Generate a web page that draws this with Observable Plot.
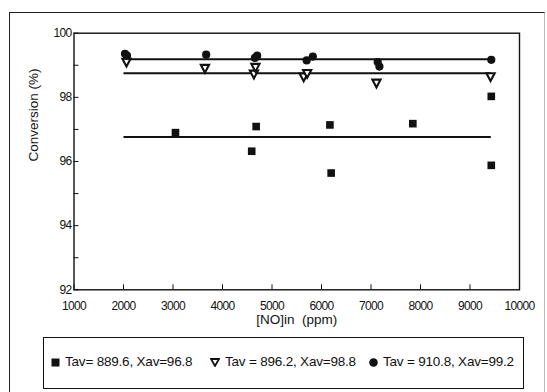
<!DOCTYPE html>
<html><head><meta charset="utf-8">
<script src="https://cdn.jsdelivr.net/npm/d3@7"></script>
<script src="https://cdn.jsdelivr.net/npm/@observablehq/plot@0.6"></script>
<style>
body{margin:0;background:#fff;}
#wrap{position:relative;width:547px;height:392px;overflow:hidden;font-family:"Liberation Sans",Arial,sans-serif;color:#111;}
#outer{position:absolute;left:9px;top:12px;width:536px;height:420px;border:1.3px solid #222;border-right-color:#bbb;box-sizing:border-box;}
#legend{position:absolute;left:43px;top:337px;width:481px;height:52px;border:1.6px solid #111;box-sizing:border-box;background:#fff;}
.sym{position:absolute;top:19.5px;line-height:0;}
.sym svg{display:block;}
.lab{position:absolute;top:16px;font-size:13.5px;line-height:16px;white-space:pre;letter-spacing:-0.2px;}
#chart{position:absolute;left:0;top:0;}
#chart g[aria-label="x-axis tick label"] text,
#chart g[aria-label="y-axis tick label"] text{letter-spacing:-0.7px;}
</style>
</head><body>
<div id="wrap">
  <div id="outer"></div>
  <div id="chart"></div>
  <div id="legend"></div>
</div>
<script>
// Series labels
const seriesNames = ["Tav= 889.6, Xav=96.8", "Tav = 896.2, Xav=98.8", "Tav = 910.8, Xav=99.2"];
// Tav = 889.6 (squares)
const sqX = [3050, 4590, 4680, 6170, 6195, 7845, 9430, 9430];
const sqY = [96.90, 96.32, 97.09, 97.14, 95.64, 97.18, 98.03, 95.88];
// Tav = 896.2 (open down-triangles)
const triX = [2060, 3645, 4635, 4665, 5640, 5710, 7110, 9415];
const triY = [99.10, 98.91, 98.73, 98.94, 98.64, 98.75, 98.45, 98.65];
// Tav = 910.8 (filled circles)
const cirX = [2030, 2070, 3670, 4655, 4700, 5700, 5825, 7135, 7170, 9430];
const cirY = [99.36, 99.30, 99.33, 99.23, 99.30, 99.15, 99.27, 99.10, 98.96, 99.17];
// average conversion lines
const avgY = [96.76, 98.75, 99.19];
const lineX = [2010, 9430];
// axes
const xTicks = [1000, 2000, 3000, 4000, 5000, 6000, 7000, 8000, 9000, 10000];
const yTicks = [92, 93, 94, 95, 96, 97, 98, 99, 100];
const xTitle = "[NO]in\u00a0 (ppm)";
const yTitle = "Conversion (%)";

const squares = sqX.map((x, i) => ({x, y: sqY[i]}));
const triangles = triX.map((x, i) => ({x, y: triY[i]}));
const circles = cirX.map((x, i) => ({x, y: cirY[i]}));

const triDown = {
  draw(ctx, size) {
    const r = Math.sqrt(size / Math.PI);
    ctx.moveTo(-r * 1.05, -r * 0.85);
    ctx.lineTo(r * 1.05, -r * 0.85);
    ctx.lineTo(0, r * 1.15);
    ctx.closePath();
  }
};

const tickFont = '"Liberation Sans Narrow","Arial Narrow","Liberation Sans",Arial,sans-serif';
const titleFont = '"Liberation Sans",Arial,sans-serif';

const chart = Plot.plot({
  width: 547,
  height: 392,
  marginLeft: 73.5,
  marginRight: 28,
  marginTop: 32.7,
  marginBottom: 102.7,
  style: {background: "transparent", color: "#111", overflow: "visible"},
  x: {domain: [1000, 10000]},
  y: {domain: [92, 100]},
  marks: [
    Plot.frame({stroke: "#111", strokeWidth: 1.4}),
    Plot.axisX({ticks: xTicks, tickSize: 5, dy: -5, tickPadding: 12, tickFormat: d => String(d), fontSize: 12, fontFamily: tickFont, label: null, stroke: "#111"}),
    Plot.axisY({ticks: yTicks, tickSize: 5, dx: 5, tickPadding: 2.5, tickFormat: d => d % 2 === 0 ? String(d) : "", fontSize: 12, fontFamily: tickFont, label: null, stroke: "#111"}),
    Plot.text([xTitle], {frameAnchor: "bottom", dy: 34, fontSize: 13.5, fontFamily: titleFont, fill: "#111"}),
    Plot.text([yTitle], {frameAnchor: "left", dx: -40.5, rotate: -90, fontSize: 13.5, fontFamily: titleFont, fill: "#111"}),
    Plot.ruleY(avgY, {x1: lineX[0], x2: lineX[1], stroke: "#111", strokeWidth: 2}),
    Plot.dot(squares, {x: "x", y: "y", symbol: "square", r: 4.3, fill: "#111", stroke: "none"}),
    Plot.dot(triangles, {x: "x", y: "y", symbol: triDown, r: 3.9, fill: "#fff", stroke: "#111", strokeWidth: 2.1}),
    Plot.dot(circles, {x: "x", y: "y", symbol: "circle", r: 4.1, fill: "#111", stroke: "none"})
  ]
});
document.getElementById("chart").appendChild(chart);

// legend
const legend = document.getElementById("legend");
const symSvgs = [
  '<svg width="9" height="9"><rect x="0.5" y="0.5" width="8" height="8" fill="#111"/></svg>',
  '<svg width="10" height="9"><path d="M1,1 L9,1 L5,8 Z" fill="#fff" stroke="#111" stroke-width="1.8"/></svg>',
  '<svg width="9" height="9"><circle cx="4.5" cy="4.5" r="4.3" fill="#111"/></svg>'
];
const symLeft = [7, 166, 325];
const labLeft = [21, 181, 339];
seriesNames.forEach((name, i) => {
  const s = document.createElement("div");
  s.className = "sym"; s.style.left = symLeft[i] + "px"; s.innerHTML = symSvgs[i];
  legend.appendChild(s);
  const t = document.createElement("div");
  t.className = "lab"; t.style.left = labLeft[i] + "px"; t.textContent = name;
  legend.appendChild(t);
});
</script>
</body></html>
